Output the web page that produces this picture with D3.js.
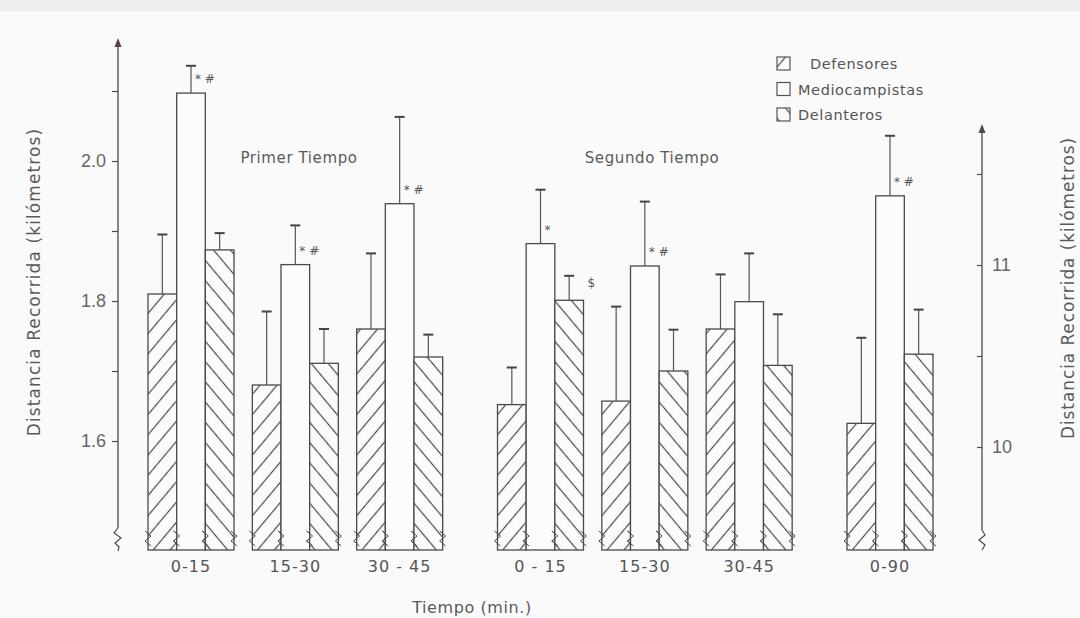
<!DOCTYPE html>
<meta charset="utf-8">
<style>
  body { margin: 0; background: #fafafa; }
  svg { display: block; font-family: "DejaVu Sans", "Liberation Sans", sans-serif; }
</style>
<div id="chartBx"></div>
<script src="https://cdn.jsdelivr.net/npm/d3@7"></script>
<script>
// data
var groups   = ["0-15", "15-30", "30 - 45", "0 - 15", "15-30", "30-45", "0-90"];
var halves   = [0, 0, 0, 1, 1, 1, 2];            // 0 primer tiempo, 1 segundo tiempo, 2 total
var series   = ["Defensores", "Mediocampistas", "Delanteros"];
var defMean  = [1.81, 1.68, 1.76, 1.652, 1.657, 1.76, 10.13];
var defSd    = [0.085, 0.105, 0.108, 0.053, 0.135, 0.078, 0.47];
var midMean  = [2.097, 1.852, 1.939, 1.882, 1.85, 1.799, 11.38];
var midSd    = [0.039, 0.056, 0.124, 0.077, 0.092, 0.069, 0.33];
var delMean  = [1.873, 1.711, 1.72, 1.801, 1.70, 1.708, 10.51];
var delSd    = [0.024, 0.049, 0.032, 0.035, 0.059, 0.073, 0.245];
var midNotes = ["* #", "* #", "* #", "*", "* #", "", "* #"];
var delNotes = ["", "", "", "$", "", "", ""];
var leftTicks  = [1.6, 1.7, 1.8, 1.9, 2.0, 2.1];
var leftLabels = [1.6, 1.8, 2.0];
var rightTicks  = [10, 10.5, 11, 11.5];
var rightLabels = [10, 11];

makeChart("chartBx", 1080, 618);

function makeChart(div_id, W, H) {
  var svg = d3.select("#" + div_id).append("svg")
    .attr("width", W).attr("height", H);

  svg.append("rect").attr("width", W).attr("height", 11).attr("fill", "#efefef");

  var ink = "#4a4a4a", txt = "#5a5a5a";
  var base = 550;   // broken baseline of the bars

  // patterns
  var defs = svg.append("defs");
  function hatch(id, angle) {
    var p = defs.append("pattern").attr("id", id)
      .attr("patternUnits", "userSpaceOnUse")
      .attr("width", 13).attr("height", 13)
      .attr("patternTransform", "rotate(" + angle + ")");
    p.append("rect").attr("width", 13).attr("height", 13).attr("fill", "#fbfbfb");
    p.append("line").attr("x1", 0).attr("x2", 13).attr("y1", 6.5).attr("y2", 6.5)
      .attr("stroke", ink).attr("stroke-width", 1.2);
  }
  hatch("hDef", -50);
  hatch("hDel", 50);
  var fills = { "Defensores": "url(#hDef)", "Mediocampistas": "#fcfcfc", "Delanteros": "url(#hDel)" };

  // scales
  var yL = d3.scaleLinear().domain([1.6, 2.0]).range([441, 161]);
  var yR = d3.scaleLinear().domain([10, 11]).range([447, 265]);
  var xG = d3.scaleLinear().domain([0, 6.7]).range([148, 847]);
  var x1 = d3.scaleBand().domain(series).range([0, 86]);

  var data = groups.map(function(g, i) {
    return {
      label: g, i: i, half: halves[i],
      pos: i + halves[i] * 0.35,
      y: halves[i] === 2 ? yR : yL,
      bars: [
        { key: series[0], v: defMean[i], sd: defSd[i], note: "" },
        { key: series[1], v: midMean[i], sd: midSd[i], note: midNotes[i] },
        { key: series[2], v: delMean[i], sd: delSd[i], note: delNotes[i] }
      ]
    };
  });

  // left axis
  var axL = svg.append("g").attr("transform", "translate(118,0)");
  axL.call(d3.axisLeft(yL).tickValues(leftTicks).tickSize(6)
    .tickFormat(function(d) { return leftLabels.indexOf(d) >= 0 ? d3.format(".1f")(d) : ""; }));
  axL.select(".domain").remove();
  axL.selectAll(".tick line").attr("stroke", ink).attr("stroke-width", 1.2);
  axL.selectAll(".tick text").attr("fill", "#666").attr("font-size", 18)
    .attr("font-family", "'Liberation Sans', sans-serif").attr("x", -12);
  axL.append("line").attr("y1", 44).attr("y2", 528).attr("stroke", ink).attr("stroke-width", 1.3);
  axL.append("path").attr("d", "M0,38 L-3.5,47 L3.5,47 Z").attr("fill", "#5a4048");
  axL.append("path").attr("d", "M0,528 L-4,533 L3,538 L-3,543 L1,547 L0,551")
    .attr("fill", "none").attr("stroke", ink).attr("stroke-width", 1.2);

  // right axis
  var axR = svg.append("g").attr("transform", "translate(982,0)");
  axR.call(d3.axisRight(yR).tickValues(rightTicks).tickSize(-5)
    .tickFormat(function(d) { return rightLabels.indexOf(d) >= 0 ? d : ""; }));
  axR.select(".domain").remove();
  axR.selectAll(".tick line").attr("stroke", ink).attr("stroke-width", 1.2);
  axR.selectAll(".tick text").attr("fill", "#666").attr("font-size", 18)
    .attr("font-family", "'Liberation Sans', sans-serif").attr("x", 10);
  axR.append("line").attr("y1", 130).attr("y2", 530).attr("stroke", ink).attr("stroke-width", 1.3);
  axR.append("path").attr("d", "M0,124 L-3.5,133 L3.5,133 Z").attr("fill", ink);
  axR.append("path").attr("d", "M0,530 L3,535 L-3,540 L3,545 L0,550")
    .attr("fill", "none").attr("stroke", ink).attr("stroke-width", 1.2);

  // groups
  var g = svg.selectAll("g.grp").data(data).enter().append("g")
    .attr("class", "grp")
    .attr("transform", function(d) { return "translate(" + xG(d.pos) + ",0)"; });

  var bar = g.selectAll("g.bar").data(function(d) {
      return d.bars.map(function(b) { return Object.assign({ y: d.y }, b); });
    }).enter().append("g").attr("class", "bar");

  // error bars
  bar.append("line")
    .attr("x1", function(d) { return x1(d.key) + x1.bandwidth() / 2; })
    .attr("x2", function(d) { return x1(d.key) + x1.bandwidth() / 2; })
    .attr("y1", function(d) { return d.y(d.v); })
    .attr("y2", function(d) { return d.y(d.v + d.sd); })
    .attr("stroke", "#555").attr("stroke-width", 1.2);
  bar.append("line")
    .attr("x1", function(d) { return x1(d.key) + x1.bandwidth() / 2 - 5; })
    .attr("x2", function(d) { return x1(d.key) + x1.bandwidth() / 2 + 5; })
    .attr("y1", function(d) { return d.y(d.v + d.sd); })
    .attr("y2", function(d) { return d.y(d.v + d.sd); })
    .attr("stroke", "#444").attr("stroke-width", 2);

  bar.append("rect")
    .attr("x", function(d) { return x1(d.key); })
    .attr("y", function(d) { return d.y(d.v); })
    .attr("width", x1.bandwidth())
    .attr("height", function(d) { return base - d.y(d.v); })
    .attr("fill", function(d) { return fills[d.key]; })
    .attr("stroke", ink).attr("stroke-width", 1.3);

  // axis-break zigzags on the bar edges
  bar.append("path")
    .attr("d", function(d) {
      var l = x1(d.key), r = l + x1.bandwidth(), s = "";
      [l, r].forEach(function(x) {
        s += "M" + (x - 3) + ",531 l6,5 l-6,5 l6,5 ";
      });
      return s;
    })
    .attr("fill", "none").attr("stroke", ink).attr("stroke-width", 1);

  // significance marks
  bar.filter(function(d) { return d.note; }).append("text")
    .attr("x", function(d) {
      return d.key === "Delanteros" ? x1(d.key) + x1.bandwidth() + 4 : x1(d.key) + x1.bandwidth() / 2 + 4;
    })
    .attr("y", function(d) { return d.y(d.v) - (d.key === "Delanteros" ? 13 : 10); })
    .attr("font-size", 12).attr("fill", "#555")
    .text(function(d) { return d.note; });

  // category labels
  g.append("text")
    .attr("x", 43).attr("y", 572)
    .attr("text-anchor", "middle")
    .attr("font-size", 16).attr("letter-spacing", 1).attr("fill", "#555")
    .text(function(d) { return d.label; });

  // half titles
  svg.append("text").attr("x", 299).attr("y", 163)
    .attr("text-anchor", "middle").attr("font-size", 15).attr("letter-spacing", 0.6)
    .attr("fill", txt).text("Primer Tiempo");
  svg.append("text").attr("x", 652).attr("y", 163)
    .attr("text-anchor", "middle").attr("font-size", 15).attr("letter-spacing", 0.6)
    .attr("fill", txt).text("Segundo Tiempo");

  // axis titles
  svg.append("text").attr("x", 472).attr("y", 613).attr("text-anchor", "middle")
    .attr("font-size", 16).attr("letter-spacing", 0.6).attr("fill", txt).text("Tiempo (min.)");
  svg.append("text").attr("transform", "translate(40,282) rotate(-90)")
    .attr("text-anchor", "middle").attr("font-size", 17).attr("letter-spacing", 1.1).attr("fill", txt)
    .text("Distancia Recorrida (kilómetros)");
  svg.append("text").attr("transform", "translate(1074,288) rotate(-90)")
    .attr("text-anchor", "middle").attr("font-size", 17).attr("letter-spacing", 0.9).attr("fill", txt)
    .text("Distancia Recorrida (kilómetros)");

  // legend
  var legend = svg.append("g").attr("transform", "translate(777,57)");
  var li = legend.selectAll("g").data(series).enter().append("g")
    .attr("transform", function(d, i) { return "translate(0," + (i * 25.5) + ")"; });
  li.append("rect").attr("width", 13).attr("height", 13)
    .attr("fill", function(d) { return fills[d]; })
    .attr("stroke", "#555").attr("stroke-width", 1.2);
  li.append("text").attr("x", function(d, i) { return i === 0 ? 33 : 21; }).attr("y", 12)
    .attr("font-size", 14.5).attr("letter-spacing", 0.6)
    .attr("fill", "#555").text(function(d) { return d; });
}
</script>
